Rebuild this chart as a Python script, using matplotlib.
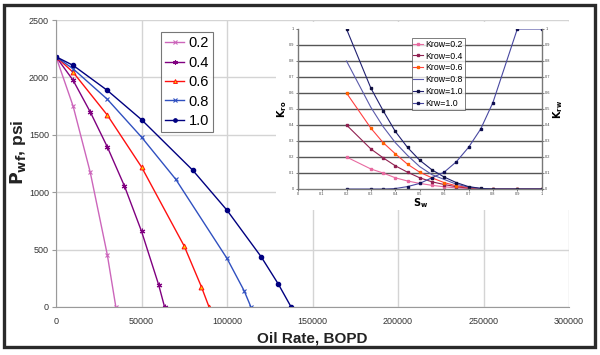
import matplotlib
matplotlib.use("Agg")
import matplotlib.pyplot as plt
from matplotlib.patches import Rectangle

plt.rcParams['font.family'] = ['Liberation Sans', 'DejaVu Sans']

# main chart: IPR curves, oil rate (BOPD) vs Pwf (psi)
labels = ['0.2', '0.4', '0.6', '0.8', '1.0']
q_02 = [0, 10000, 20000, 30000, 35000]
p_02 = [2180, 1750, 1175, 455, 0]
q_04 = [0, 10000, 20000, 30000, 40000, 50000, 60000, 63500]
p_04 = [2180, 1975, 1700, 1395, 1055, 660, 195, 0]
q_06 = [0, 10000, 30000, 50000, 75000, 85000, 89500]
p_06 = [2180, 2045, 1672, 1220, 530, 177, 0]
q_08 = [0, 10000, 30000, 50000, 70000, 100000, 110000, 114000]
p_08 = [2180, 2075, 1810, 1480, 1113, 423, 142, 0]
q_10 = [0, 10000, 30000, 50000, 80000, 100000, 120000, 130000, 137500]
p_10 = [2180, 2105, 1887, 1632, 1191, 843, 437, 200, 0]

# inset: relative permeability vs Sw
sw = [0.2, 0.3, 0.35, 0.4, 0.45, 0.5, 0.55, 0.6, 0.65, 0.7, 0.75, 0.8, 0.9, 1.0]
krow_02 = [0.2, 0.125, 0.1, 0.07, 0.05, 0.035, 0.023, 0.014, 0.007, 0.003, 0.001, 0, 0, 0]
krow_04 = [0.4, 0.25, 0.195, 0.145, 0.105, 0.07, 0.045, 0.028, 0.014, 0.006, 0.001, 0, 0, 0]
krow_06 = [0.6, 0.38, 0.29, 0.22, 0.155, 0.105, 0.07, 0.04, 0.02, 0.009, 0.002, 0, 0, 0]
krow_08 = [0.8, 0.51, 0.39, 0.29, 0.21, 0.14, 0.09, 0.06, 0.03, 0.012, 0.003, 0, 0, 0]
krow_10 = [1.0, 0.63, 0.49, 0.36, 0.26, 0.18, 0.12, 0.075, 0.04, 0.015, 0.004, 0, 0, 0]
krw_10 = [0, 0, 0, 0.003, 0.015, 0.035, 0.07, 0.105, 0.17, 0.26, 0.375, 0.54, 1.0, 1.0]

fig = plt.figure(figsize=(6, 3.55), dpi=100)

ax = fig.add_axes([56/600, 1-307/355, 513/600, 287/355])
ax.set_xlim(0, 300000)
ax.set_ylim(0, 2500)
ax.set_xticks(range(0, 300001, 50000))
ax.set_yticks(range(0, 2501, 500))
ax.grid(True, color='#d4d4d4', lw=1)
ax.set_axisbelow(True)
for s in ['top', 'right']:
    ax.spines[s].set_visible(False)
for s in ['left', 'bottom']:
    ax.spines[s].set_color('#9a9a9a')
ax.tick_params(axis='x', length=0, pad=7, labelsize=6.5, colors='#333333')
ax.tick_params(axis='y', length=3, pad=2, labelsize=6.5, colors='#333333')
ax.tick_params(axis='both', color='#9a9a9a')

ax.plot(q_02, p_02, color='#cc66bb', lw=1, marker='x', ms=3.2, mew=0.8, label=labels[0])
ax.plot(q_04, p_04, color='#800080', lw=1, marker=(6, 2, 0), ms=4, mew=0.8, label=labels[1])
ax.plot(q_06, p_06, color='#ff1010', lw=1, marker='^', ms=3.5, mfc='#ffcc00', mec='#ff1010', mew=0.7, label=labels[2])
ax.plot(q_08, p_08, color='#3050c0', lw=1, marker='x', ms=3.2, mew=0.8, label=labels[3])
ax.plot(q_10, p_10, color='#000080', lw=1, marker='o', ms=3, label=labels[4])

leg = ax.legend(loc='upper left', bbox_to_anchor=(161/600, 1-32/355), bbox_transform=fig.transFigure,
                fontsize=10.5, frameon=True, fancybox=False, edgecolor='#555555', handlelength=1.3,
                handletextpad=0.3, labelspacing=0.37, borderpad=0.3, borderaxespad=0, markerscale=0.8)
leg.get_frame().set_linewidth(0.8)

ax.set_xlabel('Oil Rate, BOPD', fontsize=11, fontweight='bold', labelpad=4, color='#222222')
fig.text(18/600, 1-152/355, r'$\mathbf{P_{wf}}$, psi', rotation=90, fontsize=12.5, fontweight='bold',
         ha='center', va='center', color='#222222')

# white block behind the inset
bg = fig.add_axes([276/600, 1-210/355, 296/600, 188/355])
bg.set_facecolor('white')
bg.set_xticks([])
bg.set_yticks([])
for s in bg.spines.values():
    s.set_visible(False)
bg.set_zorder(2)

axi = fig.add_axes([297.7/600, 1-189/355, 244/600, 160/355])
axi.set_zorder(3)
axi.set_xlim(0, 1)
axi.set_ylim(0, 1)
ticks = [i/10 for i in range(11)]
tl = ['0'] + ['%.1f' % t for t in ticks[1:-1]] + ['1']
axi.set_xticks(ticks)
axi.set_xticklabels(tl)
axi.set_yticks(ticks)
axi.set_yticklabels(tl)
for t in ticks[1:-1]:
    axi.axhline(t, color='#555555', lw=1, zorder=0.5)
axi.spines['top'].set_visible(False)
for s in ['left', 'right', 'bottom']:
    axi.spines[s].set_color('#777777')
    axi.spines[s].set_linewidth(1)
axi.tick_params(labelsize=2.8, colors='#444444', length=1.5, pad=1, width=0.5)
axi.tick_params(axis='y', right=True, labelright=True)

axi.plot(sw, krow_02, color='#e86aa0', lw=0.8, marker='s', ms=1.5, label='Krow=0.2')
axi.plot(sw, krow_04, color='#902050', lw=0.8, marker='s', ms=1.5, label='Krow=0.4')
axi.plot(sw, krow_06, color='#ff4040', lw=0.8, marker='s', ms=2, mfc='#ff8000', mec='#ff6000', label='Krow=0.6')
axi.plot(sw, krow_08, color='#5a5aaa', lw=0.8, label='Krow=0.8')
axi.plot(sw, krow_10, color='#202070', lw=0.8, marker='s', ms=1.8, mfc='#101040', mec='#101040', label='Krow=1.0')
axi.plot(sw, krw_10, color='#4848a0', lw=0.8, marker='s', ms=1.8, mfc='#101050', mec='#101050', label='Krw=1.0')

leg2 = axi.legend(loc='upper left', bbox_to_anchor=(411.7/600, 1-38/355), bbox_transform=fig.transFigure,
                  fontsize=6.3, frameon=True, fancybox=False, edgecolor='#444444', handlelength=1.1,
                  handletextpad=0.3, labelspacing=0.32, borderpad=0.2, borderaxespad=0)
leg2.get_frame().set_linewidth(0.6)

fig.text(282/600, 1-109/355, r'$\mathbf{K_{ro}}$', rotation=90, fontsize=7, ha='center', va='center')
fig.text(558/600, 1-109/355, r'$\mathbf{K_{rw}}$', rotation=90, fontsize=7, ha='center', va='center')
fig.text(421/600, 1-203/355, r'$\mathbf{S_w}$', fontsize=7, ha='center', va='center')

# dark frame round the whole picture
fig.patches.append(Rectangle((4/600, 8/355), 591/600, 342/355, transform=fig.transFigure,
                             fill=False, edgecolor='#2a2a2a', lw=2.4, zorder=10))

fig.savefig('out.png', dpi=100)
